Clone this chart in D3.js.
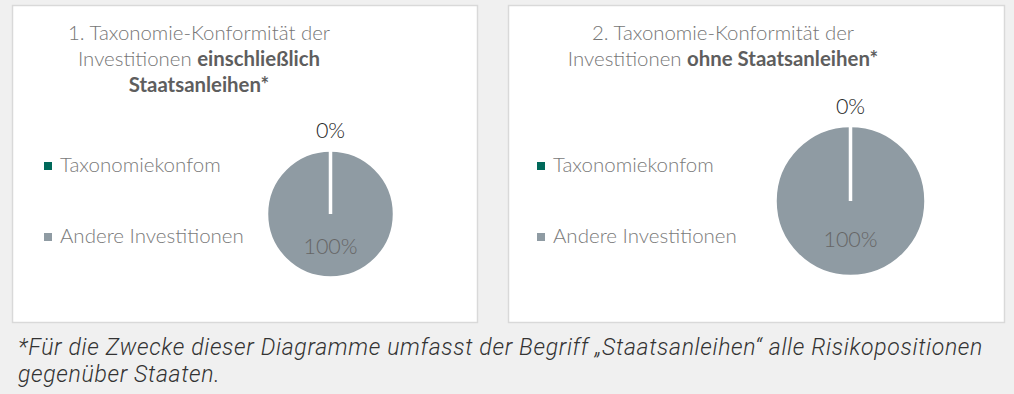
<!DOCTYPE html>
<html lang="de">
<head>
<meta charset="utf-8">
<script src="https://cdn.jsdelivr.net/npm/d3@7"></script>
<style>
  html, body { margin: 0; padding: 0; background: #f0f0f0; }
  svg { display: block; }
</style>
</head>
<body>
<svg id="chart" width="1014" height="394"></svg>
<script>
// Categories shared by both pies
const categories = ["Taxonomiekonfom", "Andere Investitionen"];
// Shares in percent: including and excluding sovereign bonds
const valuesInclSovereign = [0, 100];
const valuesExclSovereign = [0, 100];
const sliceColors = ["#00695a", "#8f9ba3"];

// Title lines, each line a list of [text, bold] runs
const titleInclSovereign = [
  [["1. Taxonomie-Konformität der", false]],
  [["Investitionen ", false], ["einschließlich", true]],
  [["Staatsanleihen*", true]]
];
const titleExclSovereign = [
  [["2. Taxonomie-Konformität der", false]],
  [["Investitionen ", false], ["ohne Staatsanleihen*", true]]
];
const footnoteLines = [
  "*Für die Zwecke dieser Diagramme umfasst der Begriff „Staatsanleihen“ alle Risikopositionen",
  "gegenüber Staaten."
];

const svg = d3.select("#chart");
const FONT = "Lato, 'Open Sans', sans-serif";

const panels = [
  { values: valuesInclSovereign, title: titleInclSovereign,
    box: { x: 12, y: 5, w: 465, h: 317 }, titleX: 199,
    legendX: 44, pie: { cx: 330.5, cy: 214, r: 62.5 } },
  { values: valuesExclSovereign, title: titleExclSovereign,
    box: { x: 508, y: 5, w: 496, h: 317 }, titleX: 723,
    legendX: 537, pie: { cx: 850.5, cy: 201, r: 74 } }
];

const color = d3.scaleOrdinal().domain(categories).range(sliceColors);
const pie = d3.pie().sort(null).value(d => d.value).startAngle(0).endAngle(2 * Math.PI);

panels.forEach(p => {
  const g = svg.append("g");

  // Panel card
  g.append("rect")
    .attr("x", p.box.x + 0.5).attr("y", p.box.y + 0.5)
    .attr("width", p.box.w).attr("height", p.box.h)
    .attr("fill", "#ffffff")
    .attr("stroke", "#d9d9d9").attr("stroke-width", 1.5);

  // Title
  const title = g.append("text")
    .attr("text-anchor", "middle")
    .attr("font-family", FONT)
    .attr("font-size", 20.4)
    .attr("fill", "#767676");
  p.title.forEach((line, i) => {
    line.forEach((run, j) => {
      const ts = title.append("tspan").text(run[0])
        .attr("font-weight", run[1] ? 700 : 300)
        .attr("fill", run[1] ? "#5e5e5e" : "#767676");
      if (j === 0) ts.attr("x", p.titleX).attr("y", 40 + i * 26);
    });
  });

  // Legend
  const legendY = d3.scalePoint().domain(categories).range([172, 243]);
  const leg = g.selectAll(".leg").data(categories).join("g")
    .attr("transform", d => `translate(${p.legendX},${legendY(d)})`);
  leg.append("rect")
    .attr("x", 0).attr("y", -10).attr("width", 8).attr("height", 8)
    .attr("fill", d => color(d));
  leg.append("text")
    .attr("x", 16).attr("y", 0)
    .attr("font-family", FONT).attr("font-weight", 300)
    .attr("font-size", 20.5).attr("fill", "#7a7a7a")
    .text(d => d);

  // Pie
  const data = categories.map((c, i) => ({ category: c, value: p.values[i] }));
  const arcs = pie(data);
  const R = p.pie.r + 1.5;
  const arc = d3.arc().innerRadius(0).outerRadius(R);
  const pg = g.append("g").attr("transform", `translate(${p.pie.cx},${p.pie.cy})`);

  // draw the full slice first, the thin slice on top so its white edge shows
  pg.selectAll("path").data(arcs.slice().sort((a, b) => b.value - a.value)).join("path")
    .attr("d", arc)
    .attr("fill", d => color(d.data.category))
    .attr("stroke", "#ffffff").attr("stroke-width", 3.5)
    .attr("stroke-linejoin", "miter");

  // Labels: small slice outside the rim, large slice inside
  const outsideArc = d3.arc().innerRadius(p.pie.r + 21).outerRadius(p.pie.r + 21);
  const insideArc = d3.arc().innerRadius(p.pie.r * 0.52).outerRadius(p.pie.r * 0.52);
  pg.selectAll(".lbl").data(arcs).join("text")
    .attr("transform", d => {
      const c = (d.value === 0 ? outsideArc : insideArc).centroid(d);
      return `translate(${c[0]},${c[1]})`;
    })
    .attr("dy", "0.35em")
    .attr("text-anchor", "middle")
    .attr("font-family", FONT).attr("font-weight", 300)
    .attr("font-size", 21.5)
    .attr("fill", d => d.value === 0 ? "#262626" : "#666666")
    .text(d => d3.format(".0f")(d.value) + "%");
});

// Footnote, spaced out so the first line runs across the full width
const footX = 18, footRight = 983;
const foot = svg.append("g").selectAll("text").data(footnoteLines).join("text")
  .attr("x", footX).attr("y", (d, i) => 355 + i * 26.5)
  .attr("font-family", "Roboto, sans-serif")
  .attr("font-style", "italic")
  .attr("font-weight", 300)
  .attr("font-size", 23)
  .attr("fill", "#333333")
  .text(d => d);
const firstLine = foot.node();
const spare = (footRight - footX) - firstLine.getComputedTextLength();
const spacing = Math.max(0, spare / footnoteLines[0].length);
foot.attr("letter-spacing", spacing + "px");
</script>
</body>
</html>
